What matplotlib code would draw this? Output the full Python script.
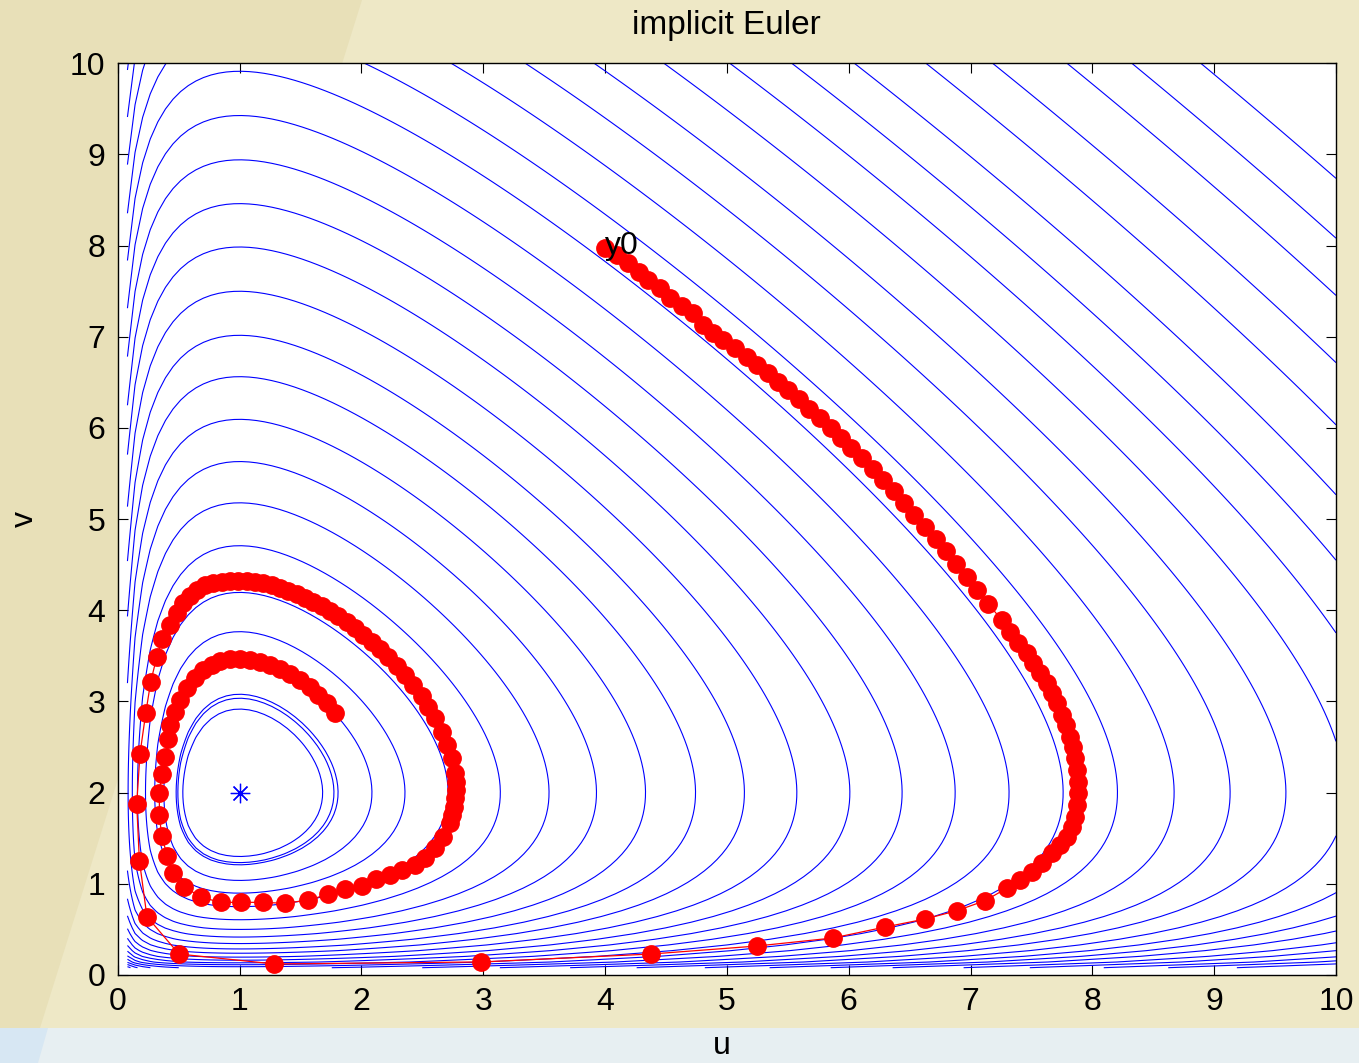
import numpy as np
import matplotlib
matplotlib.use("Agg")
import matplotlib.pyplot as plt
from matplotlib.patches import Polygon

plt.rcParams['font.family'] = ['Liberation Sans', 'DejaVu Sans']

# ---------------- data ----------------
title = "implicit Euler"
x_label = "u"
y_label = "v"
tick_values = [0, 1, 2, 3, 4, 5, 6, 7, 8, 9, 10]

# contour levels of the invariant I(u,v) = ln u - u + 2 ln v - v
contour_levels = [-1.776, -1.815, -1.83, -1.965, -2.114, -2.328, -2.61, -2.89,
                  -3.175, -3.48, -3.80, -4.12, -4.47, -4.83, -5.19, -5.56,
                  -5.94, -6.325, -6.715, -7.125, -7.533, -7.942, -8.378,
                  -8.805, -9.217, -9.642, -10.137, -10.605, -11.134, -11.6,
                  -12.1]

equilibrium_u = [1.0]
equilibrium_v = [2.0]

start_label = "y0"
start_u = 4.0
start_v = 8.0

traj_u = [4.001, 4.096, 4.191, 4.279, 4.355, 4.451, 4.533, 4.629, 4.725, 4.807,
          4.889, 4.971, 5.067, 5.163, 5.245,
          5.334, 5.420, 5.506, 5.592, 5.678, 5.765, 5.851, 5.937, 6.023, 6.109,
          6.196, 6.282, 6.368, 6.454, 6.540, 6.626, 6.713, 6.799, 6.885, 6.971,
          7.057, 7.144,
          7.256, 7.324, 7.392, 7.461, 7.515, 7.570, 7.625, 7.666, 7.708, 7.748,
          7.784, 7.817, 7.839, 7.858, 7.872, 7.880, 7.880, 7.872, 7.858, 7.831,
          7.790, 7.735, 7.666, 7.584, 7.502, 7.406, 7.297,
          7.119, 6.887, 6.627, 6.298, 5.872, 5.248, 4.378, 2.982, 1.285, 0.503,
          0.240,
          0.178, 0.156, 0.183, 0.230, 0.271, 0.320, 0.366, 0.429, 0.489, 0.539,
          0.593, 0.648,
          0.717, 0.785, 0.853, 0.922, 0.990, 1.059, 1.127, 1.196, 1.264, 1.332,
          1.401, 1.469, 1.537, 1.606, 1.674, 1.743, 1.811, 1.880, 1.948, 2.016,
          2.085, 2.153, 2.221, 2.290, 2.358, 2.426, 2.495, 2.550, 2.604, 2.659,
          2.700, 2.741, 2.769, 2.774, 2.777, 2.771, 2.760, 2.747, 2.728, 2.673,
          2.604, 2.522, 2.440, 2.331, 2.235, 2.120,
          2.003, 1.866, 1.729, 1.565, 1.373, 1.195, 1.010, 0.848, 0.684,
          0.547, 0.457, 0.407, 0.361, 0.342, 0.342, 0.361, 0.388, 0.416, 0.429,
          0.470, 0.511, 0.566, 0.634, 0.703, 0.772, 0.840, 0.922, 1.004, 1.086,
          1.168, 1.250, 1.332, 1.414, 1.496, 1.578, 1.647, 1.715, 1.784]
traj_v = [7.971, 7.898, 7.806, 7.714, 7.623, 7.532, 7.422, 7.338, 7.258, 7.130,
          7.038, 6.965, 6.874, 6.782, 6.691,
          6.601, 6.508, 6.412, 6.315, 6.213, 6.109, 6.003, 5.893, 5.782, 5.666,
          5.549, 5.428, 5.306, 5.179, 5.051, 4.919, 4.786, 4.648, 4.509, 4.367,
          4.222, 4.074,
          3.894, 3.766, 3.638, 3.528, 3.419, 3.309, 3.199, 3.090, 2.980, 2.852,
          2.742, 2.614, 2.504, 2.377, 2.249, 2.120, 1.993, 1.865, 1.736, 1.627,
          1.517, 1.426, 1.335, 1.225, 1.133, 1.042, 0.951,
          0.815, 0.705, 0.614, 0.526, 0.406, 0.318, 0.230, 0.143, 0.121, 0.230,
          0.640,
          1.254, 1.872, 2.427, 2.870, 3.217, 3.484, 3.685, 3.839, 3.967, 4.077,
          4.157, 4.223,
          4.277, 4.296, 4.314, 4.325, 4.325, 4.325, 4.314, 4.296, 4.274, 4.245,
          4.212, 4.175, 4.139, 4.095, 4.047, 3.996, 3.938, 3.872, 3.803, 3.729,
          3.656, 3.572, 3.485, 3.389, 3.291, 3.181, 3.060, 2.943, 2.816, 2.669,
          2.523, 2.377, 2.212, 2.120, 2.029, 1.938, 1.846, 1.755, 1.664, 1.517,
          1.390, 1.280, 1.207, 1.152, 1.097, 1.050,
          0.976, 0.940, 0.885, 0.823, 0.786, 0.797, 0.797, 0.797, 0.852,
          0.969, 1.115, 1.305, 1.525, 1.755, 2.000, 2.201, 2.395, 2.585, 2.742,
          2.888, 3.016, 3.145, 3.254, 3.345, 3.400, 3.444, 3.463, 3.466, 3.455,
          3.430, 3.400, 3.353, 3.302, 3.236, 3.162, 3.071, 2.980, 2.870]

# ---------------- figure ----------------
W, H = 1359, 1063
fig = plt.figure(figsize=(W / 100, H / 100), dpi=100)
fig.patch.set_facecolor('#EEE8C6')


def fx(px):
    return px / W


def fy(py):
    return 1 - py / H


# slide background decorations (behind the axes)
bg_polys = [
    ([(0, 0), (362, 0), (40, 1028), (0, 1028)], '#E8E0B8'),
    ([(0, 1028), (W, 1028), (W, H), (0, H)], '#E7EFF2'),
    ([(0, 1028), (48, 1028), (38, H), (0, H)], '#D7E7F3'),
]
for pts, col in bg_polys:
    fig.patches.append(Polygon([(fx(a), fy(b)) for a, b in pts], closed=True,
                               transform=fig.transFigure, facecolor=col,
                               edgecolor='none', zorder=-10))

ax = fig.add_axes([117.7 / W, 1 - 975 / H, (1336 - 117.7) / W, (975 - 63.3) / H])
ax.set_zorder(1)
ax.set_facecolor('white')

# contour field
g = np.linspace(0.08, 10.0, 160)
U, V = np.meshgrid(g, g)
Z = np.log(U) - U + 2 * np.log(V) - V
ax.contour(U, V, Z, levels=sorted(contour_levels), colors='#0000FF',
           linewidths=0.8, linestyles='solid')

# equilibrium
ax.plot(equilibrium_u, equilibrium_v, linestyle='none', marker=(8, 2, 0),
        markersize=14, markeredgecolor='#0000FF', markeredgewidth=0.9,
        color='#0000FF')

# implicit Euler trajectory
ax.plot(traj_u, traj_v, color='#FF0000', linewidth=0.9, zorder=3)
ax.plot(traj_u, traj_v, linestyle='none', marker='o', markersize=12.5,
        markerfacecolor='#FF0000', markeredgecolor='#FF0000', zorder=4)

ax.text(start_u, start_v, start_label, fontsize=23, ha='left', va='center',
        color='black', zorder=5)

ax.set_xlim(0, 10)
ax.set_ylim(0, 10)
ax.set_xticks(tick_values)
ax.set_yticks(tick_values)
ax.tick_params(direction='in', length=7, width=0.8, top=True, right=True,
               labelsize=23, pad=9)
for s in ax.spines.values():
    s.set_linewidth(1.0)

ax.set_title(title, fontsize=24, pad=21)
fig.text(fx(722), fy(1046), x_label, ha='center', va='center', fontsize=23)
fig.text(fx(25), fy(519), y_label, ha='center', va='center', fontsize=23,
         rotation=90)

fig.savefig('out.png', dpi=100, facecolor=fig.get_facecolor())
